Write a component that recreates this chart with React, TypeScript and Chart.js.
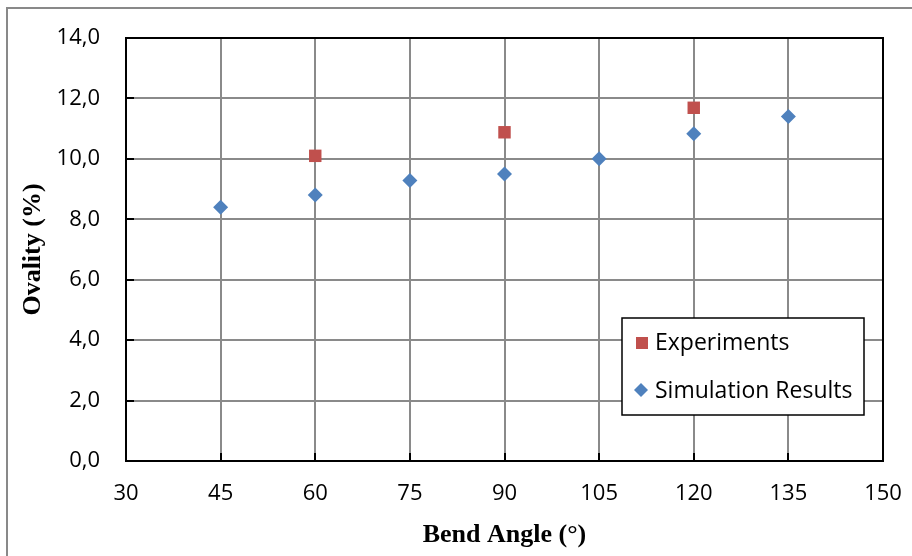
import React, { useEffect, useRef } from "react";
import { Chart, registerables } from "chart.js";

Chart.register(...registerables);

const simAngles = [45, 60, 75, 90, 105, 120, 135];
const simOvality = [8.4, 8.8, 9.28, 9.5, 10.0, 10.83, 11.4];
const expAngles = [60, 90, 120];
const expOvality = [10.1, 10.88, 11.69];
const xTicks = [30, 45, 60, 75, 90, 105, 120, 135, 150];
const yTicks = [0, 2, 4, 6, 8, 10, 12, 14];
const seriesNames = ["Experiments", "Simulation Results"];
const xTitle = "Bend Angle (°)";
const yTitle = "Ovality (%)";

const RED = "#C0504D";
const BLUE = "#4F81BD";
const TICK_FONT = "'Open Sans', sans-serif";
const TITLE_FONT = "'Liberation Serif', 'Times New Roman', serif";

const decor = {
  id: "decor",
  beforeDatasetsDraw(chart: any) {
    const { ctx, chartArea: a, scales } = chart;
    ctx.save();
    ctx.strokeStyle = "#000";
    ctx.lineWidth = 2;
    ctx.beginPath();
    for (const v of yTicks) {
      const y = Math.round(scales.y.getPixelForValue(v));
      ctx.moveTo(a.left, y);
      ctx.lineTo(a.left + 8, y);
    }
    for (const v of xTicks) {
      const x = Math.round(scales.x.getPixelForValue(v));
      ctx.moveTo(x, a.bottom);
      ctx.lineTo(x, a.bottom - 8);
    }
    ctx.stroke();
    ctx.strokeRect(a.left, a.top, a.right - a.left, a.bottom - a.top);
    ctx.restore();
  },
  afterDraw(chart: any) {
    const { ctx, chartArea: a } = chart;
    ctx.save();
    ctx.strokeStyle = "#898989";
    ctx.lineWidth = 2;
    ctx.beginPath();
    ctx.moveTo(7, 560);
    ctx.lineTo(7, 8);
    ctx.lineTo(915, 8);
    ctx.stroke();

    ctx.fillStyle = "#000";
    ctx.font = `bold 26px ${TITLE_FONT}`;
    ctx.textAlign = "center";
    ctx.textBaseline = "middle";
    ctx.fillText(xTitle, (a.left + a.right) / 2, 535);
    ctx.save();
    ctx.translate(33, (a.top + a.bottom) / 2);
    ctx.rotate(-Math.PI / 2);
    ctx.fillText(yTitle, 0, 0);
    ctx.restore();

    const lx = 622, ly = 318, lw = 242, lh = 97;
    ctx.fillStyle = "#fff";
    ctx.fillRect(lx, ly, lw, lh);
    ctx.strokeStyle = "#000";
    ctx.lineWidth = 1.5;
    ctx.strokeRect(lx, ly, lw, lh);
    ctx.fillStyle = RED;
    ctx.fillRect(636, 337, 12, 12);
    ctx.fillStyle = BLUE;
    ctx.beginPath();
    ctx.moveTo(641, 383);
    ctx.lineTo(648, 390);
    ctx.lineTo(641, 397);
    ctx.lineTo(634, 390);
    ctx.closePath();
    ctx.fill();
    ctx.fillStyle = "#000";
    ctx.font = `23px ${TICK_FONT}`;
    ctx.textAlign = "left";
    ctx.textBaseline = "middle";
    ctx.fillText(seriesNames[0], 655, 343);
    ctx.fillText(seriesNames[1], 655, 391);
    ctx.restore();
  },
};

export default function App() {
  const ref = useRef<HTMLCanvasElement | null>(null);
  useEffect(() => {
    if (!ref.current) return;
    const chart = new Chart(ref.current, {
      type: "scatter",
      data: {
        datasets: [
          {
            label: seriesNames[0],
            data: expAngles.map((x, i) => ({ x, y: expOvality[i] })),
            pointStyle: "rect",
            pointRadius: 8.8,
            pointHoverRadius: 8.8,
            backgroundColor: RED,
            borderColor: RED,
            borderWidth: 0,
          },
          {
            label: seriesNames[1],
            data: simAngles.map((x, i) => ({ x, y: simOvality[i] })),
            pointStyle: "rectRot",
            pointRadius: 7.5,
            pointHoverRadius: 7.5,
            backgroundColor: BLUE,
            borderColor: BLUE,
            borderWidth: 0,
          },
        ],
      },
      options: {
        animation: false,
        responsive: false,
        maintainAspectRatio: false,
        events: [],
        layout: { padding: { left: 0, top: 38, right: 29, bottom: 0 } },
        plugins: {
          legend: { display: false },
          tooltip: { enabled: false },
          title: { display: false },
        },
        scales: {
          x: {
            type: "linear",
            min: 30,
            max: 150,
            afterBuildTicks: (s: any) => {
              s.ticks = xTicks.map((v) => ({ value: v }));
            },
            afterFit: (s: any) => {
              s.height = 95;
              s.paddingLeft = 0;
              s.paddingRight = 0;
            },
            grid: { color: "#8a8a8a", lineWidth: 2, drawTicks: false },
            border: { display: true, color: "#000", width: 2 },
            ticks: {
              padding: 20,
              color: "#000",
              maxRotation: 0,
              font: { family: TICK_FONT, size: 22 },
              callback: (v: any) => String(v),
            },
          },
          y: {
            type: "linear",
            min: 0,
            max: 14,
            afterBuildTicks: (s: any) => {
              s.ticks = yTicks.map((v) => ({ value: v }));
            },
            afterFit: (s: any) => {
              s.width = 126;
              s.paddingTop = 0;
              s.paddingBottom = 0;
            },
            grid: { color: "#8a8a8a", lineWidth: 2, drawTicks: false },
            border: { display: true, color: "#000", width: 2 },
            ticks: {
              padding: 26,
              color: "#000",
              font: { family: TICK_FONT, size: 22 },
              callback: (v: any) => Number(v).toFixed(1).replace(".", ","),
            },
          },
        },
      },
      plugins: [decor],
    } as any);
    return () => chart.destroy();
  }, []);
  return (
    <div style={{ position: "absolute", left: 0, top: 0, width: 912, height: 556, background: "#fff" }}>
      <canvas ref={ref} width={912} height={556} style={{ display: "block", width: 912, height: 556 }} />
    </div>
  );
}
